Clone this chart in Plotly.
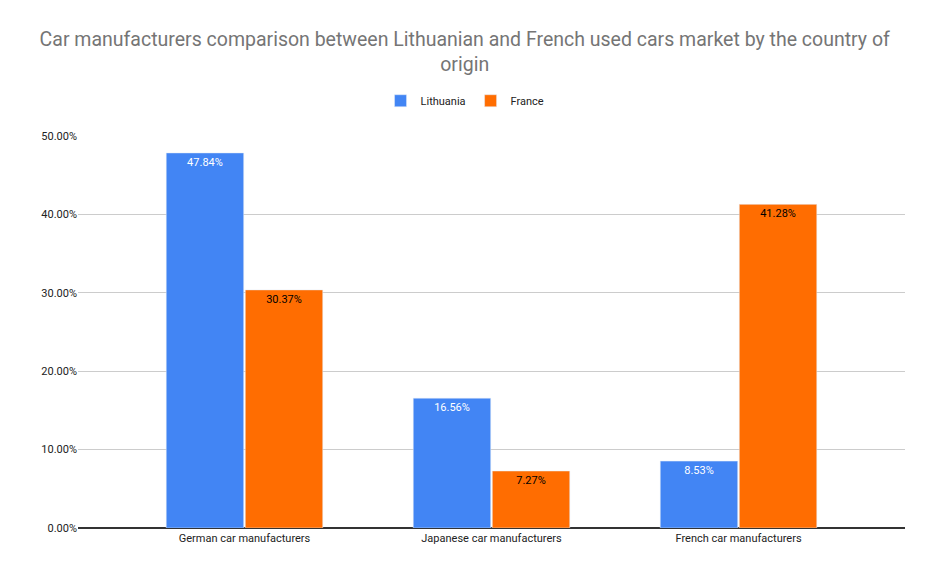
import plotly.graph_objects as go

categories = ["German car manufacturers", "Japanese car manufacturers", "French car manufacturers"]
lithuania = [47.84, 16.56, 8.53]
france = [30.37, 7.27, 41.28]
tick_vals = [0, 10, 20, 30, 40, 50]
tick_text = ["0.00%", "10.00%", "20.00%", "30.00%", "40.00%", "50.00%"]

fig = go.Figure()
fig.add_bar(x=categories, y=lithuania, name="Lithuania", marker_color="#4285F4",
            text=[f"{v:.2f}%" for v in lithuania], textposition="inside", insidetextanchor="end",
            textfont=dict(color="white", size=11), textangle=0)
fig.add_bar(x=categories, y=france, name="France", marker_color="#FF6D01",
            text=[f"{v:.2f}%" for v in france], textposition="inside", insidetextanchor="end",
            textfont=dict(color="black", size=11), textangle=0)
fig.update_layout(
    width=934, height=577, barmode="group", bargap=0.36, bargroupgap=0.02,
    plot_bgcolor="white", paper_bgcolor="white",
    font=dict(family="Roboto, Arial", size=11, color="#222"),
    title=dict(text="Car manufacturers comparison between Lithuanian and French used cars market by the country of<br>origin",
               x=0.489, xanchor="center", y=0.935, yanchor="middle", font=dict(size=19.5, color="#757575")),
    legend=dict(orientation="h", x=0.468, xanchor="center", y=1.09, yanchor="middle", font=dict(size=11)),
    margin=dict(l=70, r=37, t=128, b=57, autoexpand=False),
    yaxis=dict(range=[0, 50], tickvals=tick_vals, ticktext=tick_text, gridcolor="#cccccc",
               zeroline=True, zerolinecolor="#333", showline=False, automargin=False),
    xaxis=dict(showline=True, linecolor="#333", ticks="", range=[-0.674, 2.674], automargin=False),
)
fig.write_html("out.html")
